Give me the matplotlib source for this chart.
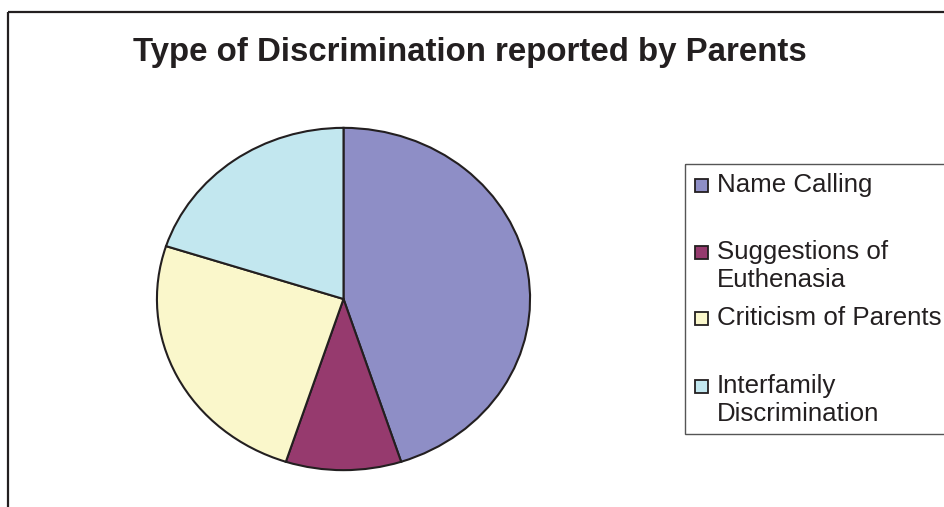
import matplotlib.pyplot as plt
from matplotlib.patches import Rectangle

# discrimination types and share of parent reports (%)
categories = ['Name Calling', 'Suggestions of\nEuthenasia',
              'Criticism of Parents', 'Interfamily\nDiscrimination']
shares = [45, 10, 25, 20]
colors = ['#8E8EC6', '#963A6E', '#FAF7CB', '#C2E7EF']
title = 'Type of Discrimination reported by Parents'

plt.rcParams['font.family'] = ['Liberation Sans', 'DejaVu Sans']

W, H = 945, 507
fig = plt.figure(figsize=(W / 100, H / 100), dpi=100)

# full-figure overlay in pixel units for frame, title and legend
bg = fig.add_axes([0, 0, 1, 1])
bg.set_xlim(0, W)
bg.set_ylim(H, 0)
bg.axis('off')

# chart area border (runs off the right and bottom edges)
bg.add_patch(Rectangle((8, 12), W + 20, H + 20, fill=False,
                       edgecolor='#231F20', linewidth=1.6))
bg.text(470, 52, title, ha='center', va='center', fontsize=23.8,
        fontweight='bold', color='#231F20')

# pie drawn into its own axes; aspect left free so it comes out slightly oval
pie_ax = fig.add_axes([156 / W, 1 - 471 / H, 375 / W, 344 / H])
pie_ax.pie(shares, colors=colors, startangle=90, counterclock=False,
           radius=1.0, wedgeprops=dict(edgecolor='#231F20', linewidth=1.5))
pie_ax.set_xlim(-1.005, 1.005)
pie_ax.set_ylim(-1.005, 1.005)
pie_ax.set_aspect('auto')
pie_ax.axis('off')

# legend box
bg.add_patch(Rectangle((685, 164), 300, 270, fill=False,
                       edgecolor='#555555', linewidth=1.0))
first_line_y = [185, 252, 318, 386]
line_step = 28
for label, col, y0 in zip(categories, colors, first_line_y):
    bg.add_patch(Rectangle((695, y0 - 6.5), 13, 13, facecolor=col,
                           edgecolor='#231F20', linewidth=1.3))
    for k, line in enumerate(label.split('\n')):
        bg.text(717, y0 + k * line_step, line, ha='left', va='center',
                fontsize=18.6, color='#231F20')

fig.savefig('out.png', dpi=100)
